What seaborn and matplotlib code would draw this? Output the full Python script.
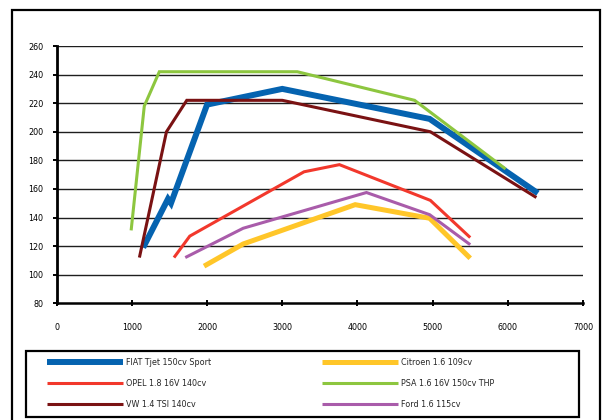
import numpy as np
import pandas as pd
import seaborn as sns
import matplotlib
matplotlib.use("Agg")
import matplotlib.pyplot as plt
import matplotlib.patches as patches

sns.set_style("white")
plt.rcParams['font.family'] = ['DejaVu Sans']

# torque curves (rpm, Nm)
fiat_rpm = [1150, 1480, 1520, 2000, 3000, 4960, 6400]
fiat_nm = [119, 153, 150, 219, 230, 209, 157]

citroen_rpm = [1960, 2480, 3970, 4960, 5500]
citroen_nm = [106, 121.5, 149, 139.5, 111.5]

opel_rpm = [1560, 1770, 3290, 3760, 4970, 5500]
opel_nm = [112, 127, 172, 177, 152, 126]

psa_rpm = [990, 1165, 1365, 3200, 4760, 5970]
psa_nm = [131, 218, 242, 242, 222, 174]

vw_rpm = [1100, 1460, 1730, 3000, 4970, 6380]
vw_nm = [112, 200, 222, 222, 200, 154]

ford_rpm = [1710, 2480, 4120, 4960, 5500]
ford_nm = [112, 132.5, 157.5, 142, 121]

names = ["FIAT Tjet 150cv Sport", "Citroen 1.6 109cv", "OPEL 1.8 16V 140cv",
         "PSA 1.6 16V 150cv THP", "VW 1.4 TSI 140cv", "Ford 1.6 115cv"]
rpms = [fiat_rpm, citroen_rpm, opel_rpm, psa_rpm, vw_rpm, ford_rpm]
torques = [fiat_nm, citroen_nm, opel_nm, psa_nm, vw_nm, ford_nm]

colors = ["#0563b0", "#ffc629", "#f2382c", "#8dc63f", "#7a1213", "#a95caa"]
widths = [4.3, 3.6, 2.2, 2.2, 2.2, 2.2]

x_ticks = [0, 1000, 2000, 3000, 4000, 5000, 6000, 7000]
y_ticks = [80, 100, 120, 140, 160, 180, 200, 220, 240, 260]

fig = plt.figure(figsize=(6.03, 4.2), dpi=100)
ax = fig.add_axes([56.7 / 603, 1 - 303.3 / 420, (583 - 56.7) / 603, (303.3 - 46) / 420])

for ytick in y_ticks[1:]:
    ax.axhline(ytick, color="#1e1e1e", lw=1.0, zorder=0)

lines = {}
for name, r, t, c, w in zip(names, rpms, torques, colors, widths):
    df = pd.DataFrame({'rpm': r, 'nm': t})
    sns.lineplot(data=df, x='rpm', y='nm', ax=ax, color=c, lw=w,
                 sort=False, label=name, legend=False)
    ln = ax.lines[-1]
    ln.set_solid_capstyle('butt')
    ln.set_solid_joinstyle('miter')
    lines[name] = ln

ax.set_xlim(0, 7000)
ax.set_ylim(80, 260)
ax.set_xticks(x_ticks)
ax.set_yticks(y_ticks)
ax.set_xlabel("")
ax.set_ylabel("")
for s in ['top', 'right']:
    ax.spines[s].set_visible(False)
ax.spines['left'].set_linewidth(2)
ax.spines['bottom'].set_linewidth(1.8)
ax.spines['left'].set_color('black')
ax.spines['bottom'].set_color('black')
ax.tick_params(axis='x', direction='inout', length=4, width=1.4, pad=12,
               labelsize=5.8, colors='black', bottom=True)
ax.tick_params(axis='y', direction='out', length=3.2, width=1.4, pad=6.5,
               labelsize=5.8, colors='black', left=True)
ax.set_facecolor('white')

# outer frame
fig.add_artist(patches.Rectangle((12 / 603, -0.1), (600 - 12) / 603, 1 - 9.5 / 420 + 0.1,
                                 transform=fig.transFigure, fill=False,
                                 ec='black', lw=1.6, clip_on=False))
# legend frame
fig.add_artist(patches.Rectangle((26 / 603, 3 / 420), (579 - 26) / 603, (417 - 351) / 420,
                                 transform=fig.transFigure, fill=False,
                                 ec='black', lw=1.6, clip_on=False))

order = ["FIAT Tjet 150cv Sport", "OPEL 1.8 16V 140cv", "VW 1.4 TSI 140cv",
         "Citroen 1.6 109cv", "PSA 1.6 16V 150cv THP", "Ford 1.6 115cv"]
fig.legend([lines[n] for n in order], order, ncol=2, frameon=False,
           loc='upper left', bbox_to_anchor=(47 / 603, 1 - 358 / 420),
           bbox_transform=fig.transFigure, borderpad=0, borderaxespad=0,
           fontsize=5.8, handlelength=9.4, handletextpad=0.37,
           columnspacing=13.8, labelspacing=1.48)

fig.savefig("out.png", dpi=100)
